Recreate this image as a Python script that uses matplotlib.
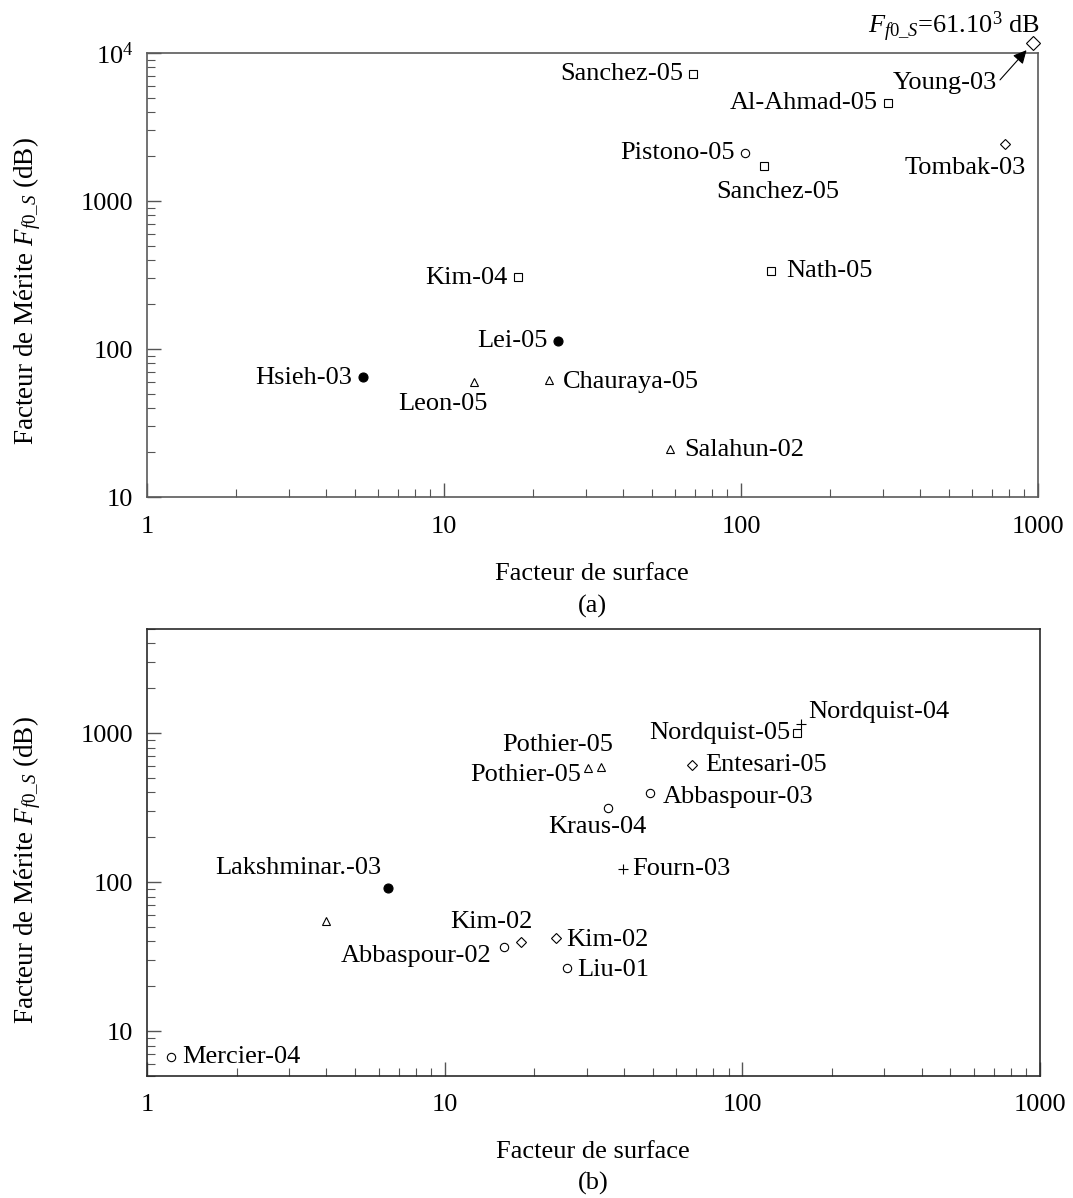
import numpy as np
import matplotlib
matplotlib.use("Agg")
import matplotlib.pyplot as plt
from matplotlib.ticker import FixedLocator, FixedFormatter, LogLocator, NullFormatter

FS = 19
plt.rcParams["font.family"] = ["Liberation Serif", "DejaVu Serif"]
plt.rcParams["mathtext.fontset"] = "custom"
plt.rcParams["mathtext.rm"] = "Liberation Serif"
plt.rcParams["mathtext.it"] = "Liberation Serif:italic"
plt.rcParams["font.size"] = FS

# ---- data: panel (a) ----
a_names = ["Sanchez-05", "Al-Ahmad-05", "Young-03", "Tombak-03", "Pistono-05",
           "Sanchez-05", "Kim-04", "Nath-05", "Lei-05", "Hsieh-03",
           "Leon-05", "Chauraya-05", "Salahun-02"]
a_surface = [69, 312, 962, 774, 103, 119.5, 17.7, 126, 24.2, 5.34, 12.6, 22.6, 57.6]
a_merit = [7200, 4590, 61e3, 2430, 2110, 1720, 306, 336, 113, 64.7, 59.8, 61.6, 21.1]
a_kind = ["s", "s", "D", "D", "o", "s", "s", "s", "fo", "fo", "^", "^", "^"]

# ---- data: panel (b) ----
b_names = ["Mercier-04", "", "Lakshminar.-03", "Abbaspour-02", "Kim-02", "Kim-02",
           "Liu-01", "Fourn-03", "Kraus-04", "Abbaspour-03", "Entesari-05",
           "Pothier-05", "Pothier-05", "Nordquist-05", "Nordquist-04"]
b_surface = [1.2, 4.0, 6.44, 15.8, 18.1, 23.6, 25.7, 39.6, 35.5, 49.1, 68, 30.4, 33.6, 153, 158]
b_merit = [6.7, 54.7, 91, 36.7, 39.5, 42, 26.5, 122, 314, 395, 610, 582, 592, 1005, 1150]
b_kind = ["o", "^", "fo", "o", "D", "D", "o", "+", "o", "o", "D", "^", "^", "s", "+"]

x_ticks = [1, 10, 100, 1000]
x_ticklabels = ["1", "10", "100", "1000"]
a_yticks = [10, 100, 1000, 10000]
a_yticklabels = ["10", "100", "1000", r"$\mathregular{10^4}$"]
b_yticks = [10, 100, 1000]
b_yticklabels = ["10", "100", "1000"]

# label placement (pixels: dx right, dy down) and horizontal alignment
a_layout = [(-10, 0, "right"), (-10, 0, "right"), (-88, 40, "center"), (-40, 24, "center"),
            (-10, 0, "right"), (14, 26, "center"), (-10, 1, "right"), (15, 0, "left"),
            (-10, 0, "right"), (-11, 1, "right"), (-31, 22, "center"), (14, 2, "left"),
            (14, 1, "left")]
b_layout = [(12, 0, "left"), (0, 0, "left"), (-6, -20, "right"), (-12, 9, "right"),
            (-30, -20, "center"), (11, 2, "left"), (11, 2, "left"), (10, 0, "left"),
            (-11, 19, "center"), (12, 4, "left"), (13, 0, "left"), (-7, 7, "right"),
            (-44, -22, "center"), (-7, 0, "right"), (7, -12, "left")]

W, H = 1073, 1198
DPI = 100
PT = 72.0 / DPI
Y_CAP = 1.17e4  # off-scale values are drawn just above the top of panel (a)

fig = plt.figure(figsize=(W / DPI, H / DPI), dpi=DPI)
ax_a = fig.add_axes([147 / W, 1 - 497 / H, (1038 - 147) / W, (497 - 53) / H])
ax_b = fig.add_axes([147 / W, 1 - 1076 / H, (1040 - 147) / W, (1076 - 629) / H])


def draw_points(ax, xs, ys, kinds, big=None):
    for i, (x, y, k) in enumerate(zip(xs, ys, kinds)):
        ms = 6
        if big is not None and i == big:
            ms = 9
        if k == "fo":
            ax.plot(x, y, "o", ms=6.5, mfc="black", mec="black", mew=0.8, clip_on=False, zorder=3)
        elif k == "+":
            ax.plot(x, y, "+", ms=7, mec="black", mew=0.8, clip_on=False, zorder=3)
        elif k == "D":
            ax.plot(x, y, "D", ms=ms * 0.8, mfc="white", mec="black", mew=0.8, clip_on=False, zorder=3)
        else:
            ax.plot(x, y, k, ms=ms, mfc="white", mec="black", mew=0.8, clip_on=False, zorder=3)


def draw_labels(ax, names, xs, ys, layout):
    for name, x, y, (dx, dy, ha) in zip(names, xs, ys, layout):
        if not name:
            continue
        ax.annotate(name, (x, y), xytext=(dx * PT, -dy * PT), textcoords="offset points",
                    ha=ha, va="center", fontsize=FS, annotation_clip=False)


def style_axes(ax, ylim, yticks, yticklabels, spine_color, label_y, xpad):
    ax.set_xscale("log")
    ax.set_yscale("log")
    ax.set_xlim(1, 1000)
    ax.set_ylim(*ylim)
    ax.xaxis.set_major_locator(FixedLocator(x_ticks))
    ax.xaxis.set_major_formatter(FixedFormatter(x_ticklabels))
    ax.yaxis.set_major_locator(FixedLocator(yticks))
    ax.yaxis.set_major_formatter(FixedFormatter(yticklabels))
    ax.xaxis.set_minor_locator(LogLocator(base=10, subs=np.arange(2, 10)))
    ax.yaxis.set_minor_locator(LogLocator(base=10, subs=np.arange(2, 10)))
    ax.xaxis.set_minor_formatter(NullFormatter())
    ax.yaxis.set_minor_formatter(NullFormatter())
    ax.tick_params(which="both", direction="in", top=False, right=False, color="#555555")
    ax.tick_params(which="major", length=10, width=1.0)
    ax.tick_params(which="minor", length=5.5, width=0.8)
    ax.tick_params(axis="y", pad=10, labelsize=FS)
    ax.tick_params(axis="x", pad=xpad, labelsize=FS)
    for s in ax.spines.values():
        s.set_color(spine_color)
        s.set_linewidth(1.2)
    ax.set_ylabel(r"Facteur de Mérite $F_{\mathit{f0\_S}}$ (dB)", fontsize=FS + 0.5)
    ax.yaxis.set_label_coords(-0.117, label_y)


# panel (a)
a_plot_y = np.minimum(a_merit, Y_CAP)
young = a_names.index("Young-03")
draw_points(ax_a, a_surface, a_plot_y, a_kind, big=young)
draw_labels(ax_a, a_names, a_surface, a_plot_y, a_layout)
ax_a.annotate("", xy=(a_surface[young], a_plot_y[young]), xytext=(-33 * PT, -37 * PT),
              textcoords="offset points", annotation_clip=False,
              arrowprops=dict(arrowstyle="-|>", color="black", lw=0.8,
                              mutation_scale=20, shrinkA=0, shrinkB=7))
style_axes(ax_a, (10, 1e4), a_yticks, a_yticklabels, "#5a5a5a", 0.463, 14)

mant = a_merit[young] / 1e3
fig.text(1040 / W, 1 - 27 / H,
         r"$F_{\mathit{f0\_S}}$=%d.$\mathregular{10^3}$ dB" % round(mant),
         ha="right", va="center", fontsize=FS)

# panel (b)
draw_points(ax_b, b_surface, b_merit, b_kind)
draw_labels(ax_b, b_names, b_surface, b_merit, b_layout)
style_axes(ax_b, (5, 5000), b_yticks, b_yticklabels, "#2a2a2a", 0.46, 13)

fig.text(592 / W, 1 - 574 / H, "Facteur de surface", ha="center", va="center", fontsize=FS)
fig.text(592 / W, 1 - 606 / H, "(a)", ha="center", va="center", fontsize=FS)
fig.text(593 / W, 1 - 1152 / H, "Facteur de surface", ha="center", va="center", fontsize=FS)
fig.text(593 / W, 1 - 1183 / H, "(b)", ha="center", va="center", fontsize=FS)

fig.savefig("out.png", dpi=DPI, facecolor="white")
